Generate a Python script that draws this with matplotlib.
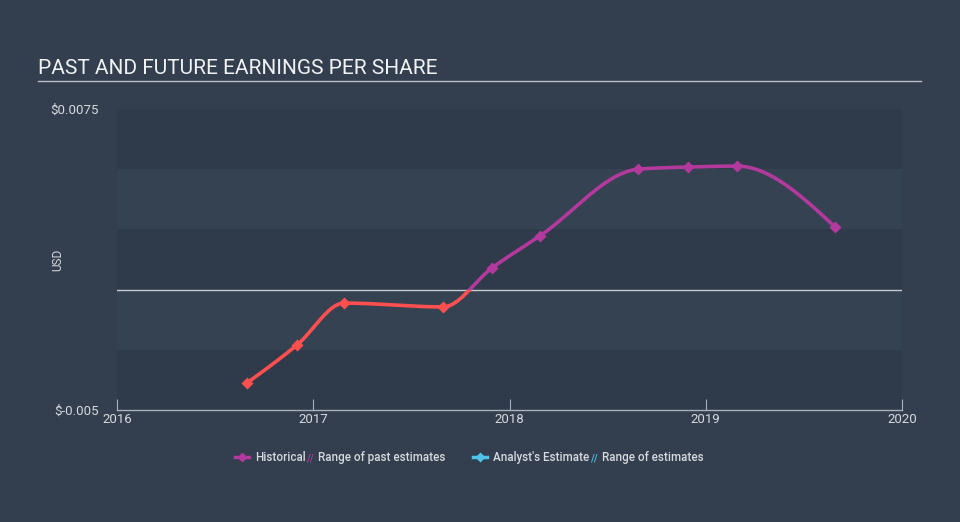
import numpy as np
import matplotlib.pyplot as plt
from matplotlib.patches import Rectangle
from matplotlib.lines import Line2D

plt.rcParams['font.family'] = ['Roboto', 'DejaVu Sans']

# data (decimal years, EPS in USD)
dates = [2016.662, 2016.917, 2017.157, 2017.661, 2017.911, 2018.155,
         2018.655, 2018.910, 2019.159, 2019.659]
eps = [-0.00388, -0.00230, -0.00056, -0.00072, 0.00090, 0.00223,
       0.00500, 0.00509, 0.00513, 0.00260]
x_ticks = [2016, 2017, 2018, 2019, 2020]
y_min, y_max = -0.005, 0.0075

bg = '#333f4e'
dark_band = '#2f3b4a'
light_band = '#344252'
pos_col = '#b3399d'
neg_col = '#ff4f4f'
txt_col = '#d6d9dd'


def monotone(x, y):
    # monotone cubic (like d3 curveMonotoneX)
    x = np.asarray(x); y = np.asarray(y)
    h = np.diff(x)
    d = np.diff(y) / h
    m = np.zeros(len(x))
    for i in range(1, len(x) - 1):
        if d[i - 1] * d[i] <= 0:
            m[i] = 0
        else:
            p = (d[i - 1] * h[i] + d[i] * h[i - 1]) / (h[i - 1] + h[i])
            m[i] = np.sign(p) * min(2 * abs(d[i - 1]), 2 * abs(d[i]), abs(p))
    m[0] = (3 * d[0] - m[1]) / 2
    m[-1] = (3 * d[-1] - m[-2]) / 2
    xs, ys = [], []
    for i in range(len(x) - 1):
        t = np.linspace(0, 1, 40, endpoint=False)
        h00 = 2 * t**3 - 3 * t**2 + 1
        h10 = t**3 - 2 * t**2 + t
        h01 = -2 * t**3 + 3 * t**2
        h11 = t**3 - t**2
        xs.append(x[i] + t * h[i])
        ys.append(h00 * y[i] + h10 * h[i] * m[i] + h01 * y[i + 1] + h11 * h[i] * m[i + 1])
    xs.append([x[-1]]); ys.append([y[-1]])
    return np.concatenate(xs), np.concatenate(ys)


fig = plt.figure(figsize=(9.6, 5.22), dpi=100)
fig.patch.set_facecolor(bg)
ax = fig.add_axes([117 / 960, 1 - 410 / 522, (902 - 117) / 960, (410 - 109) / 522])
ax.set_facecolor(bg)
ax.set_xlim(2016, 2020)
ax.set_ylim(y_min, y_max)

# alternating bands
edges = np.linspace(y_min, y_max, 6)
for i in range(5):
    c = dark_band if i % 2 == 0 else light_band
    ax.axhspan(edges[i], edges[i + 1], color=c, lw=0, zorder=0)

ax.axhline(0, color='#c8ccd2', lw=1, zorder=1)

sx, sy = monotone(dates, eps)
for col, clip in [(pos_col, (0, y_max)), (neg_col, (y_min, 0))]:
    ln, = ax.plot(sx, sy, color=col, lw=2.6, solid_capstyle='round', zorder=3)
    r = Rectangle((2015, clip[0]), 10, clip[1] - clip[0], transform=ax.transData)
    ln.set_clip_path(r)

for xv, yv in zip(dates, eps):
    ax.plot(xv, yv, marker='D', ms=6, color=pos_col if yv >= 0 else neg_col,
            zorder=4, mec='none')

for s in ['top', 'right', 'left']:
    ax.spines[s].set_visible(False)
ax.spines['bottom'].set_color('#a9b1bb')
ax.spines['bottom'].set_linewidth(1)
ax.set_xticks(x_ticks)
ax.set_xticklabels([str(t) for t in x_ticks])
ax.tick_params(axis='x', direction='in', length=8, color='#a9b1bb',
               colors=txt_col, labelsize=9.5, pad=2)
ax.set_yticks([y_min, y_max])
ax.set_yticklabels(['\\$-0.005', '\\$0.0075'])
ax.tick_params(axis='y', length=0, colors=txt_col, labelsize=9.5, pad=13)
ax.set_ylabel('USD', color=txt_col, fontsize=8.5)
ax.yaxis.set_label_coords(-53 / 785, 0.5)

fig.text(38 / 960, 1 - 69 / 522, 'PAST AND FUTURE EARNINGS PER SHARE',
         color='#f0f2f4', fontsize=15, va='center', ha='left')
fig.add_artist(Line2D([38 / 960, 921 / 960], [1 - 81 / 522, 1 - 81 / 522],
                      color='#b9bec6', lw=1))

# legend
ly = 1 - 457 / 522
lb = 1 - 461 / 522  # text baseline


def leg_text(x0, s, col=txt_col, size=8.4):
    fig.text(x0 / 960, lb, s, color=col, fontsize=size, va='baseline',
             fontweight='medium')


def leg_item(x0, col, label):
    fig.add_artist(Line2D([x0 / 960, (x0 + 14) / 960], [ly, ly], color=col, lw=2.5))
    fig.add_artist(Line2D([(x0 + 7) / 960], [ly], marker='D', ms=5.5, color=col, mec='none'))
    leg_text(x0 + 20, label)


leg_item(235, pos_col, 'Historical')
leg_text(307, '//', pos_col, 7)
leg_text(318, 'Range of past estimates')
leg_item(473, '#4fc3e8', "Analyst's Estimate")
leg_text(591, '//', '#4fc3e8', 7)
leg_text(602, 'Range of estimates')

fig.savefig('out.png', dpi=100, facecolor=bg)
